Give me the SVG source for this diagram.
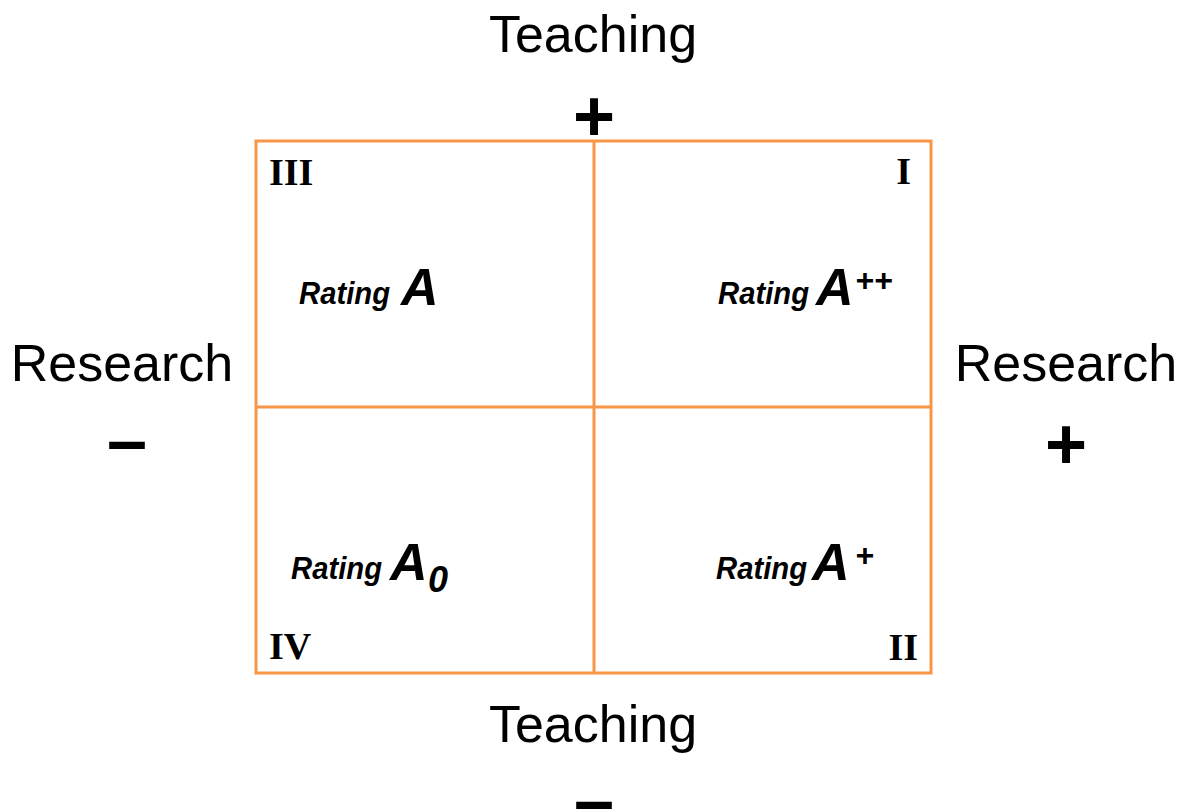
<svg xmlns="http://www.w3.org/2000/svg" width="1188" height="812" viewBox="0 0 1188 812">
<style>
.ax{font-family:"Liberation Sans",Arial,sans-serif;font-size:52px;fill:#000;text-anchor:middle}
.sg{font-family:"Liberation Sans",Arial,sans-serif;font-size:72px;font-weight:bold;fill:#000;text-anchor:middle}
.rn{font-family:"Liberation Serif","Times New Roman",serif;font-size:38px;font-weight:bold;fill:#000}
.rt{font-family:"Liberation Sans",Arial,sans-serif;font-weight:bold;font-style:italic;fill:#000}
.r1{font-size:32px}
.r2{font-size:52px}
.r3{font-size:32px}
.r4{font-size:36px}
.ln{stroke:#F79646;stroke-width:3;fill:none}
</style>
<rect width="1188" height="812" fill="#fff"/>
<g id="grid">
<rect class="ln" x="256" y="141" width="675" height="532"/>
<line class="ln" x1="594" y1="141" x2="594" y2="673"/>
<line class="ln" x1="256" y1="407" x2="931" y2="407"/>
</g>
<g id="axes">
<text class="ax" x="593" y="52">Teaching</text>
<text class="sg" x="594" y="141">+</text>
<text class="ax" x="593" y="742">Teaching</text>
<text class="sg" x="594" y="825">–</text>
<text class="ax" x="122" y="381">Research</text>
<text class="sg" x="127" y="465">–</text>
<text class="ax" x="1066" y="381">Research</text>
<text class="sg" x="1066" y="469">+</text>
</g>
<g id="q3">
<text class="rn" x="269" y="185">III</text>
<text class="rt"><tspan class="r1" x="299" y="304" textLength="91" lengthAdjust="spacingAndGlyphs">Rating</tspan><tspan class="r2" x="401" y="305">A</tspan></text>
</g>
<g id="q1">
<text class="rn" x="911" y="184" text-anchor="end">I</text>
<text class="rt"><tspan class="r1" x="718" y="304" textLength="91" lengthAdjust="spacingAndGlyphs">Rating</tspan><tspan class="r2" x="816" y="305">A</tspan><tspan class="r3" x="855" y="291">++</tspan></text>
</g>
<g id="q4">
<text class="rn" x="269" y="659">IV</text>
<text class="rt"><tspan class="r1" x="291" y="579" textLength="91" lengthAdjust="spacingAndGlyphs">Rating</tspan><tspan class="r2" x="390" y="580">A</tspan><tspan class="r4" x="428" y="592">0</tspan></text>
</g>
<g id="q2">
<text class="rn" x="918" y="660" text-anchor="end">II</text>
<text class="rt"><tspan class="r1" x="716" y="579" textLength="91" lengthAdjust="spacingAndGlyphs">Rating</tspan><tspan class="r2" x="812" y="580">A</tspan><tspan class="r3" x="855" y="566">+</tspan></text>
</g>
</svg>
